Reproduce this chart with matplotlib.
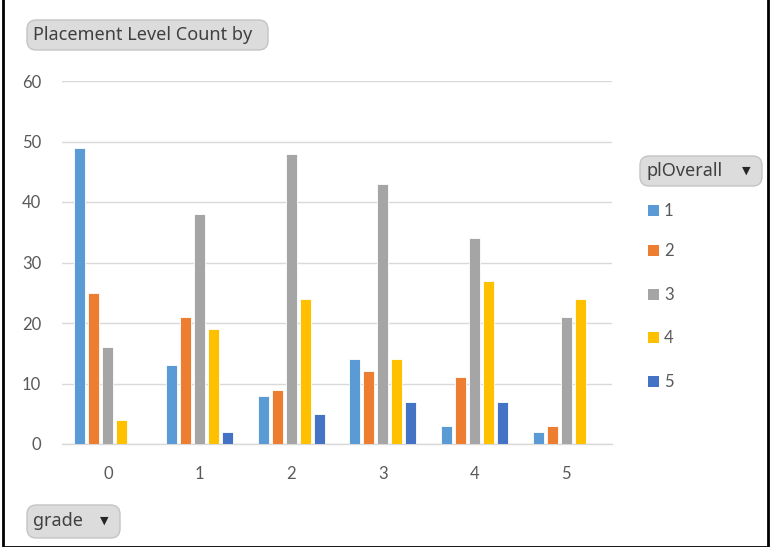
import matplotlib
matplotlib.use("Agg")
import matplotlib.pyplot as plt
from matplotlib.patches import Rectangle, FancyBboxPatch
import numpy as np

grades = ["0", "1", "2", "3", "4", "5"]
series_labels = ["1", "2", "3", "4", "5"]
s1 = [49, 13, 8, 14, 3, 2]
s2 = [25, 21, 9, 12, 11, 3]
s3 = [16, 38, 48, 43, 34, 21]
s4 = [4, 19, 24, 14, 27, 24]
s5 = [0, 2, 5, 7, 7, 0]
series = [s1, s2, s3, s4, s5]
colors = ["#5B9BD5", "#ED7D31", "#A5A5A5", "#FFC000", "#4472C4"]
yticks = [0, 10, 20, 30, 40, 50, 60]

W, H = 771, 547
fig = plt.figure(figsize=(W / 100, H / 100), dpi=100)
fig.patch.set_facecolor("white")

def fx(px):
    return px / W

def fy(py):
    return 1 - py / H

ax = fig.add_axes([fx(62), fy(444), fx(612) - fx(62), fy(81) - fy(444)])
x = np.arange(len(grades))
step = 0.153
width = 0.118
for i, (vals, c) in enumerate(zip(series, colors)):
    ax.bar(x + (i - 2) * step, vals, width=width, color=c,
           edgecolor="white", linewidth=0.6, zorder=3)

ax.set_xlim(-0.5, len(grades) - 0.5)
ax.set_ylim(0, 60)
ax.set_yticks(yticks)
ax.set_xticks(x)
ax.set_xticklabels(grades)
ax.grid(axis="y", color="#d9d9d9", linewidth=1.0, zorder=0)
for s in ["top", "right", "left"]:
    ax.spines[s].set_visible(False)
ax.spines["bottom"].set_color("#d9d9d9")
ax.spines["bottom"].set_linewidth(1.0)
ax.tick_params(axis="both", length=0, colors="#595959", labelsize=12)
ax.tick_params(axis="y", pad=15)
ax.tick_params(axis="x", pad=16)
for lab in ax.get_xticklabels() + ax.get_yticklabels():
    lab.set_family("Lato")

fam = ["Noto Sans", "DejaVu Sans"]

def button(x0, x1, y0, y1, label, arrow_x=None):
    fig.patches.append(FancyBboxPatch((fx(x0), fy(y1)), fx(x1 - x0), fy(y0) - fy(y1),
                                      boxstyle="round,pad=0,rounding_size=0.012",
                                      transform=fig.transFigure, fc="#dcdcdc",
                                      ec="#c4c4c4", lw=1, mutation_aspect=W / H))
    fig.text(fx(x0 + 6), fy((y0 + y1) / 2), label, fontsize=13, family=fam,
             color="#404040", va="center", ha="left")
    if arrow_x is not None:
        fig.text(fx(arrow_x), fy((y0 + y1) / 2), "\u25BC", fontsize=8, family=fam,
                 color="#262626", va="center", ha="center")

button(27, 268, 20, 50, "Placement Level Count by")
button(640, 762, 156, 186, "plOverall", arrow_x=746)
button(27, 120, 505, 538, "grade", arrow_x=104)

leg_y = [211, 251, 295, 338, 382]
for lab, c, yy in zip(series_labels, colors, leg_y):
    fig.patches.append(Rectangle((fx(648), fy(yy + 5)), fx(11), fy(0) - fy(11),
                                 transform=fig.transFigure, facecolor=c, edgecolor="none"))
    fig.text(fx(664), fy(yy), lab, fontsize=12, family="Lato", color="#595959",
             va="center", ha="left")

fig.patches.append(Rectangle((fx(3), fy(547)), fx(765), fy(3) - fy(547) + 0.01,
                             transform=fig.transFigure, facecolor="none",
                             edgecolor="black", linewidth=2, clip_on=False))

fig.savefig("out.png", dpi=100)
